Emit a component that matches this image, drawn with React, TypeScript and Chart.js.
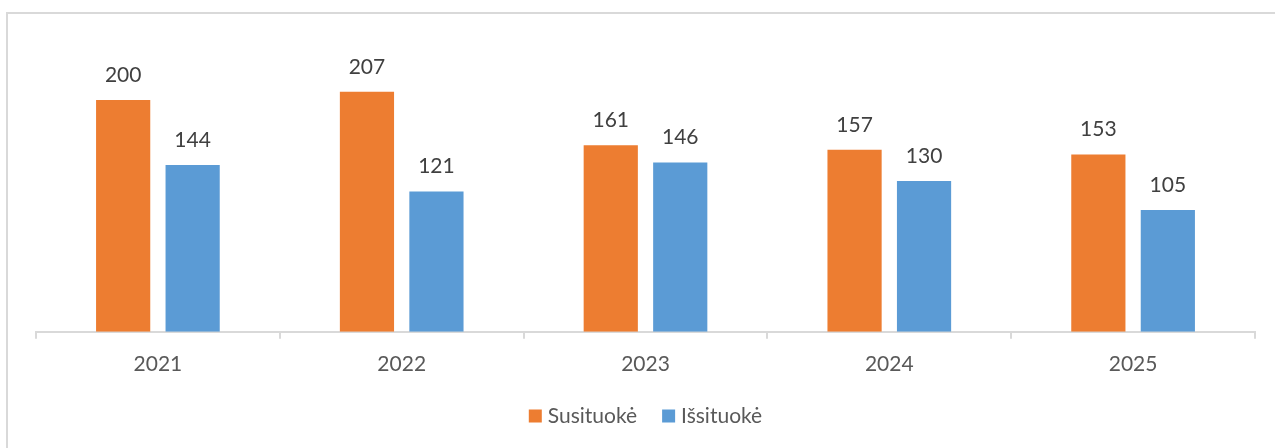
import React, { useEffect, useRef } from "react";
import { Chart, registerables } from "chart.js";

Chart.register(...registerables);

const categories = ["2021", "2022", "2023", "2024", "2025"];
const seriesNames = ["Susituokė", "Išsituokė"];
const married = [200, 207, 161, 157, 153];
const divorced = [144, 121, 146, 130, 105];
const colors = ["#ED7D31", "#5B9BD5"];

const FONT = "Lato, 'Open Sans', sans-serif";

const frameBorder = {
  id: "frameBorder",
  beforeDraw(chart: any) {
    const { ctx, width, height } = chart;
    ctx.save();
    ctx.strokeStyle = "#d9d9d9";
    ctx.lineWidth = 2;
    ctx.beginPath();
    ctx.moveTo(7, height);
    ctx.lineTo(7, 13);
    ctx.lineTo(width, 13);
    ctx.stroke();
    ctx.restore();
  },
};

const valueLabels = {
  id: "valueLabels",
  afterDatasetsDraw(chart: any) {
    const { ctx } = chart;
    ctx.save();
    ctx.font = `21px ${FONT}`;
    ctx.fillStyle = "#404040";
    ctx.textAlign = "center";
    ctx.textBaseline = "middle";
    chart.data.datasets.forEach((ds: any, i: number) => {
      const meta = chart.getDatasetMeta(i);
      meta.data.forEach((bar: any, j: number) => {
        ctx.fillText(String(ds.data[j]), bar.x, bar.y - 25);
      });
    });
    ctx.restore();
  },
};

const customLegend = {
  id: "customLegend",
  afterDraw(chart: any) {
    const { ctx, chartArea } = chart;
    const box = 13;
    const gapText = 6;
    const gapItem = 25;
    ctx.save();
    ctx.font = `21px ${FONT}`;
    ctx.textBaseline = "middle";
    ctx.textAlign = "left";
    const items = chart.data.datasets.map((ds: any) => ({
      label: ds.label,
      color: ds.backgroundColor,
      w: box + gapText + ctx.measureText(ds.label).width,
    }));
    const total =
      items.reduce((s: number, it: any) => s + it.w, 0) + gapItem * (items.length - 1);
    let x = (chartArea.left + chartArea.right) / 2 - total / 2;
    const cy = 416;
    items.forEach((it: any) => {
      ctx.fillStyle = it.color;
      ctx.fillRect(x, cy - box / 2, box, box);
      ctx.fillStyle = "#595959";
      ctx.fillText(it.label, x + box + gapText, cy);
      x += it.w + gapItem;
    });
    ctx.restore();
  },
};

export default function App() {
  const ref = useRef<HTMLCanvasElement>(null);
  useEffect(() => {
    if (!ref.current) return;
    const chart = new Chart(ref.current, {
      type: "bar",
      data: {
        labels: categories,
        datasets: [
          {
            label: seriesNames[0],
            data: married,
            backgroundColor: colors[0],
            categoryPercentage: 0.57,
            barPercentage: 0.78,
          },
          {
            label: seriesNames[1],
            data: divorced,
            backgroundColor: colors[1],
            categoryPercentage: 0.57,
            barPercentage: 0.78,
          },
        ],
      },
      options: {
        animation: false,
        responsive: false,
        maintainAspectRatio: false,
        layout: { padding: { left: 36, right: 20, top: 42, bottom: 58 } },
        plugins: {
          legend: { display: false },
          tooltip: { enabled: false },
        },
        scales: {
          x: {
            offset: true,
            grid: {
              display: true,
              offset: true,
              drawOnChartArea: false,
              drawTicks: true,
              tickLength: 7,
              color: "#d9d9d9",
              lineWidth: 2,
            },
            border: { display: true, color: "#d9d9d9", width: 2 },
            ticks: {
              color: "#595959",
              font: { family: FONT, size: 21 },
              padding: 13,
            },
          },
          y: {
            display: false,
            min: 0,
            max: 250,
          },
        },
      },
      plugins: [frameBorder, valueLabels, customLegend],
    });
    return () => chart.destroy();
  }, []);
  return (
    <div style={{ position: "absolute", left: 0, top: 0, width: 1275, height: 448, background: "#fff" }}>
      <canvas ref={ref} width={1275} height={448} style={{ display: "block" }} />
    </div>
  );
}
